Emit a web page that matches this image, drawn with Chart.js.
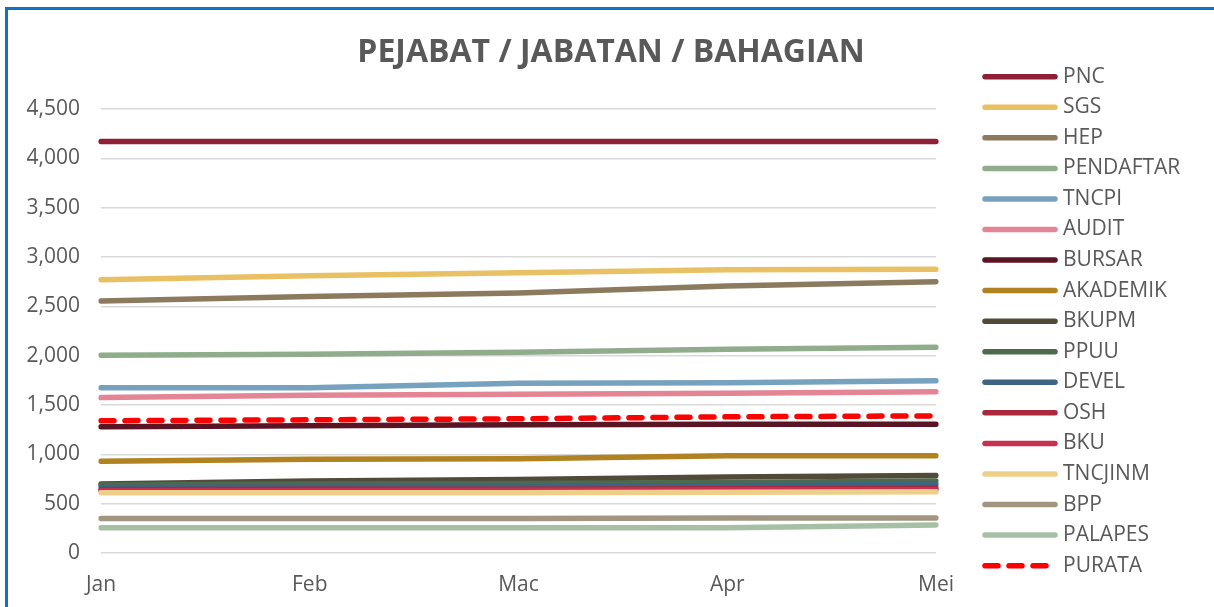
<!DOCTYPE html>
<html>
<head>
<meta charset="utf-8">
<script src="https://cdn.jsdelivr.net/npm/chart.js@4.4.1/dist/chart.umd.min.js"></script>
<style>
  html, body { margin: 0; padding: 0; background: #fff; overflow: hidden; }
  #wrap { position: relative; width: 1214px; height: 607px; }
  #frame { position: absolute; left: 5px; top: 7px; width: 1240px; height: 640px;
           border-left: 3px solid #1070c4; border-top: 3px solid #1070c4; pointer-events: none; }
</style>
</head>
<body>
<div id="wrap">
  <canvas id="chart" width="1214" height="607"></canvas>
  <div id="frame"></div>
</div>
<script>
// data
const months = ['Jan', 'Feb', 'Mac', 'Apr', 'Mei'];

const PNC       = [4170, 4170, 4170, 4170, 4170];
const SGS       = [2770, 2810, 2840, 2870, 2875];
const HEP       = [2555, 2600, 2635, 2705, 2750];
const PENDAFTAR = [2005, 2015, 2035, 2065, 2085];
const TNCPI     = [1675, 1675, 1720, 1725, 1745];
const AUDIT     = [1575, 1600, 1610, 1620, 1635];
const BURSAR    = [1280, 1290, 1300, 1305, 1305];
const AKADEMIK  = [930, 950, 955, 985, 985];
const BKUPM     = [700, 730, 745, 770, 785];
const PPUU      = [690, 700, 705, 715, 730];
const DEVEL     = [665, 670, 670, 685, 695];
const OSH       = [640, 645, 645, 650, 655];
const BKU       = [630, 632, 635, 640, 640];
const TNCJINM   = [610, 610, 610, 615, 620];
const BPP       = [350, 350, 350, 355, 355];
const PALAPES   = [255, 255, 255, 255, 285];
const PURATA    = [1340, 1350, 1360, 1380, 1390];

const seriesNames = ['PNC', 'SGS', 'HEP', 'PENDAFTAR', 'TNCPI', 'AUDIT', 'BURSAR', 'AKADEMIK',
  'BKUPM', 'PPUU', 'DEVEL', 'OSH', 'BKU', 'TNCJINM', 'BPP', 'PALAPES', 'PURATA'];
const seriesValues = [PNC, SGS, HEP, PENDAFTAR, TNCPI, AUDIT, BURSAR, AKADEMIK,
  BKUPM, PPUU, DEVEL, OSH, BKU, TNCJINM, BPP, PALAPES, PURATA];
const seriesColors = ['#8e1f35', '#e9c064', '#8b7a5d', '#8fad8b', '#76a2bf', '#e48595', '#5a1423',
  '#b08221', '#514a39', '#4d6a4d', '#3d6481', '#a9283e', '#c63150', '#eecf8a', '#a39680', '#a6c0a6', '#ff0000'];

const chartTitle = 'PEJABAT / JABATAN / BAHAGIAN';
const textColor = '#595959';
const fontFamily = '"Open Sans", "Noto Sans", sans-serif';

const datasets = seriesNames.map((name, i) => ({
  label: name,
  data: seriesValues[i],
  borderColor: seriesColors[i],
  backgroundColor: seriesColors[i],
  borderWidth: 5.5,
  borderCapStyle: 'round',
  borderJoinStyle: 'round',
  borderDash: name === 'PURATA' ? [13, 11] : [],
  pointRadius: 0,
  tension: 0,
  fill: false,
  order: seriesNames.length - i   // later series drawn on top, like excel
}));

// title + legend drawn by hand: the legend runs the full height beside the title
const sideDecor = {
  id: 'sideDecor',
  afterDraw(chart, args, opts) {
    const ctx = chart.ctx;
    ctx.save();
    ctx.fillStyle = textColor;
    ctx.textAlign = 'center';
    ctx.textBaseline = 'middle';
    ctx.font = 'bold 32px ' + fontFamily;
    ctx.fillText(chartTitle, opts.titleX, opts.titleY);

    ctx.textAlign = 'left';
    ctx.font = '21px ' + fontFamily;
    chart.data.datasets.forEach((ds, i) => {
      const y = opts.top + i * opts.step;
      ctx.beginPath();
      ctx.strokeStyle = ds.borderColor;
      ctx.lineWidth = 5.5;
      ctx.lineCap = 'round';
      ctx.setLineDash(ds.borderDash || []);
      ctx.moveTo(opts.x, y);
      ctx.lineTo(opts.x + opts.len, y);
      ctx.stroke();
      ctx.setLineDash([]);
      ctx.fillStyle = textColor;
      ctx.fillText(ds.label, opts.x + opts.len + 8, y);
    });
    ctx.restore();
  }
};

new Chart(document.getElementById('chart'), {
  type: 'line',
  data: { labels: months, datasets },
  options: {
    responsive: false,
    animation: false,
    layout: { padding: { left: 0, right: 278, top: 109, bottom: 0 } },
    plugins: {
      legend: { display: false },
      tooltip: { enabled: false },
      title: { display: false },
      sideDecor: { titleX: 611, titleY: 53, x: 985, len: 70, top: 76.7, step: 30.56 }
    },
    scales: {
      x: {
        offset: false,
        grid: { display: false, drawTicks: false },
        border: { display: false },
        ticks: { color: textColor, font: { family: fontFamily, size: 21 }, padding: 19, maxRotation: 0 },
        afterFit(scale) { scale.height = 54; }
      },
      y: {
        min: 0,
        max: 4500,
        grid: { color: '#d9d9d9', lineWidth: 1.5, drawTicks: false },
        border: { display: false },
        ticks: { stepSize: 500, color: textColor, font: { family: fontFamily, size: 21 }, padding: 21 },
        afterFit(scale) { scale.width = 101; }
      }
    }
  },
  plugins: [sideDecor]
});
</script>
</body>
</html>
